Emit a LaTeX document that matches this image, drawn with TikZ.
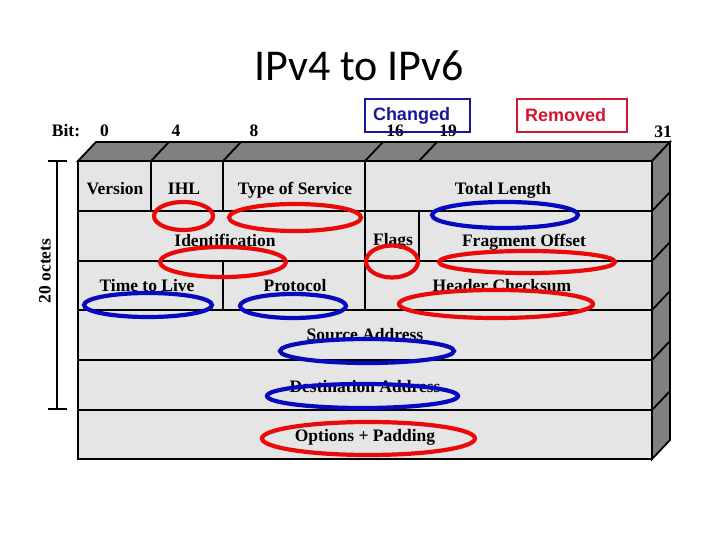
\documentclass[tikz,border=0pt]{standalone}
\usepackage{fontspec}
\setmainfont{Liberation Serif}
\newfontfamily\slidefont{Carlito}
\newfontfamily\keyfont{Liberation Sans}
\usetikzlibrary{positioning}
\definecolor{facegray}{RGB}{229,229,229}
\definecolor{sidegray}{RGB}{128,128,128}
\definecolor{chgblue}{RGB}{8,8,190}
\definecolor{remred}{RGB}{235,10,10}
\definecolor{keynavy}{RGB}{24,24,150}
\definecolor{keyred}{RGB}{212,20,48}

\begin{document}
\begin{tikzpicture}[x=1pt,y=-1pt,
	field/.style={font=\bfseries\fontsize{17.5}{20}\selectfont, anchor=base, inner sep=0pt},
	edgeline/.style={draw=black, line width=1.8pt},
	chg/.style={draw=chgblue, line width=4.2pt},
	rem/.style={draw=remred, line width=4.2pt},
	keybox/.style={line width=2pt, minimum height=33pt, inner xsep=8pt, align=left, font=\keyfont\bfseries\fontsize{18}{20}\selectfont}]
\useasboundingbox (0,0) rectangle (720,540);

\node[font=\slidefont\fontsize{44}{48}\selectfont, anchor=base]	(title)		at (359,81)		{IPv4 to IPv6};

% header box
\filldraw[edgeline, fill=sidegray] (78,161) -- (96,142) -- (670,142) -- (652,161) -- cycle;
\filldraw[edgeline, fill=sidegray] (652,161) -- (670,142) -- (670,440) -- (652,459) -- cycle;
\filldraw[edgeline, fill=facegray] (78,161) rectangle (652,459);
\draw[edgeline]
(151,161) -- (169,142)	(223,161) -- (241,142)	(365,161) -- (383,142)	(419,161) -- (437,142)
(78,211) -- (652,211) -- (670,192)
(78,261) -- (652,261) -- (670,242)
(78,310) -- (652,310) -- (670,291)
(78,360) -- (652,360) -- (670,341)
(78,410) -- (652,410) -- (670,391)
(151,161) -- (151,211)	(223,161) -- (223,211)	(365,161) -- (365,211)
(365,211) -- (365,261)	(419,211) -- (419,261)
(223,261) -- (223,310)	(365,261) -- (365,310);

% bit numbers
\node[field]	(bit)		at (66,137)		{Bit:};
\node[field]	(b0)		at (104.5,137)	{0};
\node[field]	(b4)		at (176,137)	{4};
\node[field]	(b8)		at (254,137)	{8};
\node[field]	(b16)		at (395,137)	{16};
\node[field]	(b19)		at (448,137)	{19};
\node[field]	(b31)		at (663,138)	{31};

% length bracket
\draw[line width=1.5pt] (48,161) -- (67,161) (57,161) -- (57,409) (48,409) -- (67,409);
\node[field, anchor=center, rotate=90]	(octets)	at (45,271)		{20 octets};

% fields
\node[field]	(version)	at (115,195)	{Version};
\node[field]	(ihl)		at (184,195)	{IHL};
\node[field]	(tos)		at (295,195)	{Type of Service};
\node[field]	(totlen)	at (503,195)	{Total Length};
\node[field]	(ident)		at (225,246)	{Identification};
\node[field]	(flags)		at (393,245)	{Flags};
\node[field]	(fragoff)	at (524,246)	{Fragment Offset};
\node[field]	(ttl)		at (147,291)	{Time to Live};
\node[field]	(proto)		at (295,291)	{Protocol};
\node[field]	(hdrchk)	at (502,291)	{Header Checksum};
\node[field]	(srcaddr)	at (365,340)	{Source Address};
\node[field]	(dstaddr)	at (365,392)	{Destination Address};
\node[field]	(options)	at (365,441)	{Options + Padding};

% removed fields
\draw[rem] (183.5,216) ellipse (29.5 and 14);
\draw[rem] (295,217.5) ellipse (66 and 13.5);
\draw[rem] (223,262) ellipse (63 and 15);
\draw[rem] (392,261.5) ellipse (26 and 16);
\draw[rem] (527,262) ellipse (88 and 11);
\draw[rem] (496,304) ellipse (97 and 14);
\draw[rem] (368.5,438.5) ellipse (106.5 and 16.5);

% changed fields
\draw[chg] (505,215) ellipse (73 and 13);
\draw[chg] (148,305) ellipse (64 and 12);
\draw[chg] (293,306) ellipse (53 and 12);
\draw[chg] (367,351) ellipse (87 and 12);
\draw[chg] (362.5,396) ellipse (95.5 and 12);

% key
\node[keybox, draw=keynavy, text=keynavy, text width=89pt]	(changed)	at (417.5,115.5)	{Changed};
\node[keybox, draw=keyred, text=keyred, text width=94pt]		(removed)	at (572,115.5)		{Removed};
\end{tikzpicture}
\end{document}
